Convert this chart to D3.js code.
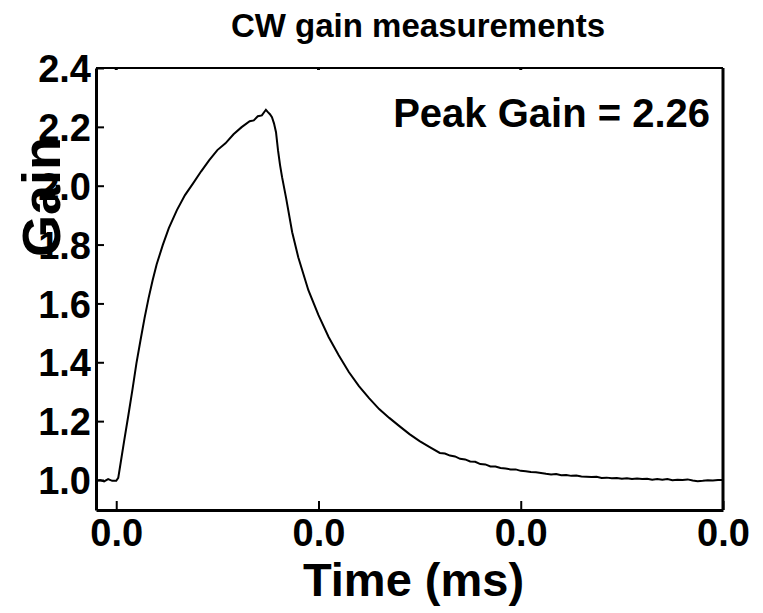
<!DOCTYPE html>
<html>
  <head>
    <meta charset="utf-8">
    <script type="text/javascript" src="https://cdn.jsdelivr.net/npm/d3@7"></script>
    <style type="text/css">
      body { margin: 0; background: #ffffff; }
      text { font-family: "Liberation Sans", Arial, sans-serif; font-weight: bold; }
    </style>
  </head>
  <body>
    <script type="text/javascript">
      // Time (ms) and gain
      var times = [-0.001, -0.0008, -0.0006, -0.0004, -0.0002, 0.0, 0.0001, 0.0002,
        0.0004, 0.0006, 0.0008, 0.001, 0.0012, 0.0014, 0.0016, 0.0018, 0.002,
        0.0023, 0.0026, 0.003, 0.0034, 0.0038, 0.0042, 0.0046, 0.005, 0.0054,
        0.0058, 0.0062, 0.0066, 0.0068, 0.007, 0.0072, 0.0074, 0.0075, 0.0076,
        0.0077, 0.0078, 0.0079, 0.008, 0.0081, 0.0082, 0.0084, 0.0087, 0.009,
        0.0095, 0.01, 0.0105, 0.011, 0.0115, 0.012, 0.0125, 0.013, 0.0135,
        0.014, 0.0145, 0.015, 0.0155,
        0.016, 0.01625, 0.0165, 0.01675, 0.017, 0.01725, 0.0175, 0.01775,
        0.018, 0.01825, 0.0185, 0.01875, 0.019, 0.01925, 0.0195, 0.01975,
        0.02, 0.02025, 0.0205, 0.02075, 0.021, 0.02125, 0.0215, 0.02175,
        0.022, 0.02225, 0.0225, 0.02275, 0.023, 0.02325, 0.0235, 0.02375,
        0.024, 0.02425, 0.0245, 0.02475, 0.025, 0.02525, 0.0255, 0.02575,
        0.026, 0.02625, 0.0265, 0.02675, 0.027, 0.02725, 0.0275, 0.02775,
        0.028, 0.02825, 0.0285, 0.02875, 0.029, 0.02925, 0.0295, 0.02975, 0.03];
      var gains = [0.997, 1.0, 0.995, 1.003, 0.997, 0.997, 1.007, 1.05,
        1.136, 1.22, 1.306, 1.397, 1.475, 1.55, 1.618, 1.679, 1.733,
        1.798, 1.856, 1.917, 1.968, 2.008, 2.049, 2.087, 2.121, 2.144,
        2.175, 2.199, 2.219, 2.222, 2.236, 2.239, 2.258, 2.25, 2.243,
        2.233, 2.212, 2.182, 2.12, 2.07, 2.029, 1.958, 1.842, 1.757,
        1.645, 1.56, 1.486, 1.424, 1.367, 1.319, 1.278, 1.241, 1.211,
        1.183, 1.156, 1.132, 1.112,
        1.092, 1.09, 1.083, 1.08, 1.072, 1.07, 1.063, 1.062,
        1.054, 1.053, 1.046, 1.046, 1.041, 1.039, 1.036, 1.036,
        1.031, 1.03, 1.027, 1.026, 1.024, 1.021, 1.019, 1.02,
        1.016, 1.017, 1.014, 1.015, 1.012, 1.011, 1.01, 1.011,
        1.007, 1.008, 1.006, 1.007, 1.004, 1.006, 1.003, 1.005,
        1.003, 1.004, 1.001, 1.003, 1.001, 1.003, 0.999, 1.001,
        1.0, 1.002, 0.998, 0.996, 0.997, 0.999, 0.998, 1.0, 1.0];
      var xTicks = [0, 0.01, 0.02, 0.03];
      var yTicks = [1.0, 1.2, 1.4, 1.6, 1.8, 2.0, 2.2, 2.4];
      var peakGain = 2.26;

      var width = 763;
      var height = 613;
      var margin = {top: 68, right: 40, bottom: 103, left: 96};

      var svg = d3.select("body").append("svg")
        .attr("width", width).attr("height", height);

      // Scales
      var x = d3.scaleLinear().domain([-0.001, 0.03])
        .range([margin.left, width - margin.right]);
      var y = d3.scaleLinear().domain([0.898, 2.4])
        .range([height - margin.bottom, margin.top]);

      // Frame: top and right sides
      svg.append("line")
        .attr("x1", x.range()[0]).attr("x2", x.range()[1])
        .attr("y1", y.range()[1]).attr("y2", y.range()[1])
        .attr("stroke", "#000").attr("stroke-width", 2);
      svg.append("line")
        .attr("x1", x.range()[1]).attr("x2", x.range()[1])
        .attr("y1", y.range()[1]).attr("y2", y.range()[0])
        .attr("stroke", "#000").attr("stroke-width", 3);

      // Small marks on the top side
      svg.append("g").selectAll("line").data(xTicks.slice(0, 3)).enter()
        .append("line")
        .attr("x1", function(d) { return x(d); })
        .attr("x2", function(d) { return x(d); })
        .attr("y1", y.range()[1] - 1).attr("y2", y.range()[1] + 2)
        .attr("stroke", "#000").attr("stroke-width", 3);

      // Axes, ticks pointing inwards
      var xAxis = d3.axisBottom(x).tickValues(xTicks)
        .tickSizeInner(-9).tickSizeOuter(0).tickPadding(9)
        .tickFormat(d3.format(".1f"));
      var yAxis = d3.axisLeft(y).tickValues(yTicks)
        .tickSizeInner(-8).tickSizeOuter(0).tickPadding(5)
        .tickFormat(d3.format(".1f"));

      var gx = svg.append("g")
        .attr("transform", "translate(0," + y.range()[0] + ")")
        .call(xAxis);
      var gy = svg.append("g")
        .attr("transform", "translate(" + x.range()[0] + ",0)")
        .call(yAxis);

      [gx, gy].forEach(function(g) {
        g.select(".domain").attr("stroke", "#000").attr("stroke-width", 3);
        g.selectAll(".tick line").attr("stroke", "#000").attr("stroke-width", 2);
        g.selectAll(".tick text").attr("fill", "#000")
          .style("font-size", "38px").style("font-family", "Liberation Sans, Arial, sans-serif")
          .style("font-weight", "bold");
      });
      gx.selectAll(".tick text").attr("dy", "0.71em");
      gy.selectAll(".tick text").attr("dy", "0.36em");

      // Trace
      var points = times.map(function(t, i) { return [t, gains[i]]; });
      var line = d3.line()
        .x(function(d) { return x(d[0]); })
        .y(function(d) { return y(d[1]); });
      svg.append("path").datum(points)
        .attr("d", line)
        .attr("fill", "none").attr("stroke", "#000").attr("stroke-width", 2);

      // Title
      svg.append("text")
        .attr("x", 418).attr("y", 37)
        .attr("text-anchor", "middle")
        .style("font-size", "33px")
        .text("CW gain measurements");

      // Peak annotation
      svg.append("text")
        .attr("x", 710).attr("y", 127)
        .attr("text-anchor", "end")
        .style("font-size", "40px")
        .text("Peak Gain = " + peakGain.toFixed(2));

      // Axis labels
      svg.append("text")
        .attr("x", (x.range()[0] + x.range()[1]) / 2 + 4).attr("y", 596)
        .attr("text-anchor", "middle")
        .style("font-size", "47px")
        .text("Time (ms)");

      svg.append("text")
        .attr("transform", "translate(60,197) rotate(-90)")
        .attr("text-anchor", "middle")
        .style("font-size", "54px")
        .text("Gain");
    </script>
  </body>
</html>
